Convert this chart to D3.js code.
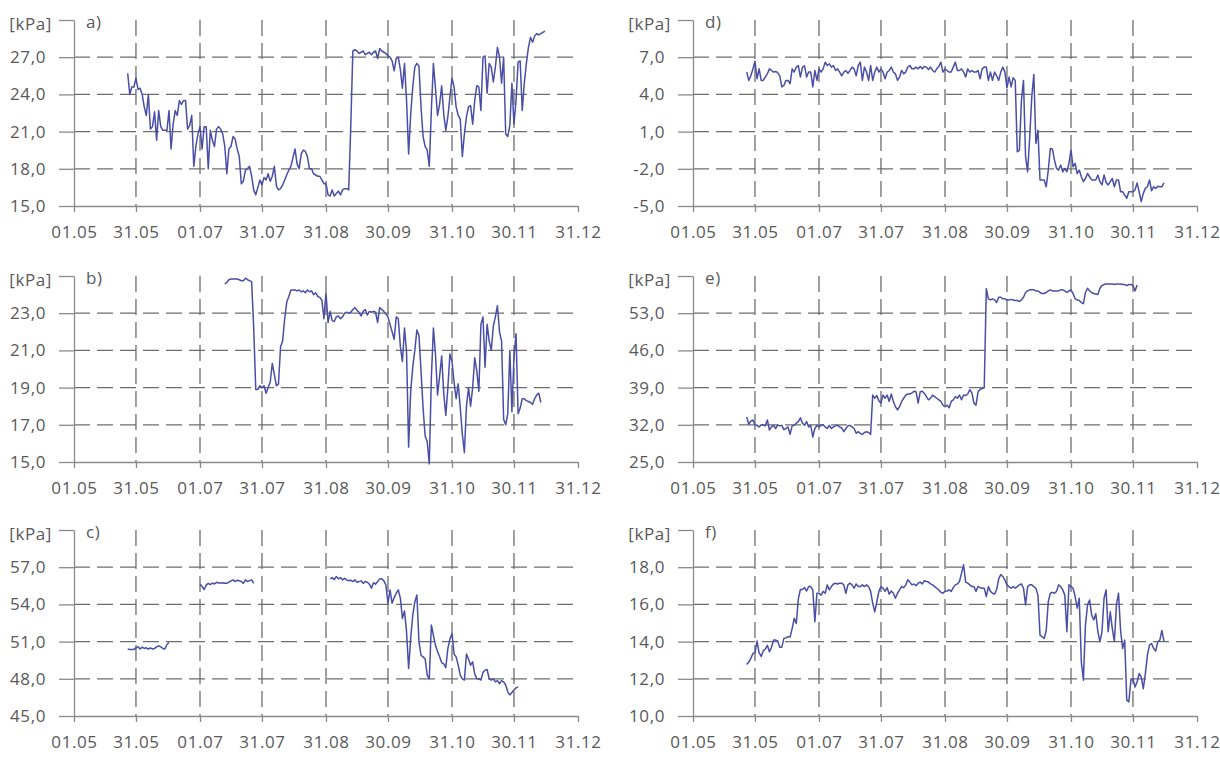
<!DOCTYPE html>
<html>
<head>
<meta charset="utf-8">
<title>Pressure panels a-f</title>
<script src="https://d3js.org/d3.v7.min.js"></script>
<style>
body { margin: 0; background: #fff; }
text { font-family: "Open Sans", sans-serif; font-size: 17px; fill: #595959; letter-spacing: 0.6px; }
</style>
</head>
<body>
<script>
// x tick labels (dd.mm)
var xTicks = ["01.05", "31.05", "01.07", "31.07", "31.08", "30.09", "31.10", "30.11", "31.12"];

// y ticks per panel (the last one is shown as the unit label)
var aTicks = [15, 18, 21, 24, 27, 30];
var bTicks = [15, 17, 19, 21, 23, 25];
var cTicks = [45, 48, 51, 54, 57, 60];
var dTicks = [-5, -2, 1, 4, 7, 10];
var eTicks = [25, 32, 39, 46, 53, 60];
var fTicks = [10, 12, 14, 16, 18, 20];

// daily readings [kPa], each list starts on the given day
var aStart = "27.05";
var aValues = [25.7, 24.0, 24.6, 24.6, 25.3, 24.4, 24.5, 24.0, 23.0, 22.3,
  24.0, 21.2, 21.4, 22.6, 20.3, 22.7, 21.4, 21.1, 21.1, 21.1,
  22.7, 19.6, 21.6, 22.7, 22.3, 23.5, 23.2, 23.5, 23.5, 21.2,
  21.5, 22.3, 18.2, 19.8, 20.8, 21.4, 19.6, 21.4, 21.4, 18.0,
  21.1, 20.3, 19.8, 21.2, 21.4, 21.2, 20.8, 19.8, 17.6, 19.6,
  19.8, 20.6, 20.4, 19.6, 19.0, 16.8, 17.0, 17.9, 18.0, 18.2,
  17.4, 16.3, 15.9, 16.5, 17.1, 16.7, 17.3, 17.1, 17.6, 17.0,
  17.4, 18.2, 16.6, 16.3, 16.4, 16.7, 17.1, 17.5, 17.9, 18.2,
  18.9, 19.6, 18.4, 18.0, 19.2, 19.5, 19.4, 19.0, 18.0, 18.0,
  17.6, 17.5, 17.4, 17.4, 17.1, 16.8, 16.8, 15.9, 15.8, 16.3,
  15.8, 16.0, 16.2, 15.9, 16.3, 16.4, 16.4, 16.3, 21.5, 27.5,
  27.6, 27.5, 27.3, 27.4, 27.5, 27.2, 27.3, 27.4, 27.2, 27.4,
  27.5, 26.9, 27.7, 27.5, 27.4, 27.3, 27.1, 27.0, 26.7, 25.9,
  26.9, 27.0, 26.0, 24.5, 26.5, 23.5, 19.2, 22.4, 24.6, 26.2,
  26.5, 26.3, 23.0, 20.6, 19.8, 19.5, 18.2, 22.7, 26.5, 24.5,
  22.3, 23.2, 24.7, 22.4, 21.1, 22.2, 23.8, 25.3, 24.6, 23.0,
  22.3, 22.0, 19.0, 20.8, 22.2, 23.0, 23.1, 21.6, 23.5, 24.7,
  24.6, 22.7, 27.0, 27.1, 24.1, 26.5, 26.2, 25.0, 26.2, 27.8,
  27.0, 24.9, 27.0, 20.8, 20.6, 21.5, 24.9, 21.6, 23.5, 26.6,
  26.7, 22.7, 24.9, 26.5, 27.8, 28.6, 28.2, 28.7, 28.9, 28.8,
  28.9, 29.0, 29.1];

var bStart = "13.07";
var bValues = [24.57, 24.66, 24.8, 24.84, 24.84, 24.84, 24.84, 24.8, 24.75, 24.75,
  24.88, 24.8, 24.75, 24.7, 22.2, 18.9, 18.9, 19.1, 19.0, 19.1,
  18.7, 19.0, 19.3, 20.3, 19.7, 19.1, 19.2, 21.2, 21.5, 22.7,
  23.6, 23.9, 24.25, 24.25, 24.25, 24.2, 24.25, 24.15, 24.2, 24.1,
  24.25, 24.15, 24.2, 24.0, 24.1, 23.9, 23.85, 23.7, 22.7, 24.1,
  22.5, 23.1, 22.6, 22.55, 22.8, 22.85, 22.7, 22.8, 23.0, 23.05,
  23.0, 23.05, 23.2, 23.3, 23.15, 23.05, 22.85, 23.1, 23.2, 22.9,
  23.1, 23.05, 23.1, 23.05, 22.5, 23.3, 23.2, 23.1, 22.95, 22.8,
  22.4, 22.0, 21.6, 22.8, 22.7, 21.2, 20.4, 22.2, 20.9, 15.8,
  18.8, 20.1, 21.0, 22.1, 21.8, 19.9, 17.9, 16.4, 16.1, 14.9,
  19.5, 22.2, 20.8, 18.6, 19.6, 20.7, 18.7, 17.5, 19.0, 20.8,
  20.4, 19.3, 18.4, 19.2, 17.9, 16.5, 15.5, 18.0, 19.0, 18.0,
  19.0, 20.6, 19.9, 18.8, 22.4, 22.8, 20.1, 22.4, 21.5, 21.0,
  22.3, 22.8, 23.4, 22.0, 21.5, 17.3, 17.0, 17.6, 21.0, 17.7,
  20.6, 21.9, 17.6, 17.9, 18.4, 18.4, 18.3, 18.25, 18.2, 18.1,
  18.4, 18.6, 18.7, 18.2];

// panel c has three separate measuring periods
var c1Start = "27.05";
var c1Values = [50.4, 50.37, 50.37, 50.37, 50.5, 50.58, 50.4, 50.55, 50.45, 50.5,
  50.4, 50.5, 50.4, 50.45, 50.58, 50.66, 50.58, 50.45, 50.4, 50.77, 50.93];
var c2Start = "01.07";
var c2Values = [55.65, 55.44, 55.2, 55.55, 55.7, 55.6, 55.72, 55.65, 55.78, 55.72,
  55.72, 55.75, 55.7, 55.7, 55.8, 55.9, 55.98, 55.84, 55.95, 55.9,
  55.85, 55.7, 55.98, 55.84, 55.92, 55.98, 55.7];
var c3Start = "02.09";
var c3Values = [56.06, 56.16, 56.0, 56.25, 56.06, 56.16, 55.98, 56.1, 55.98, 55.9,
  55.95, 55.84, 55.98, 55.79, 55.84, 55.9, 55.7, 55.84, 55.79, 55.63,
  55.3, 55.75, 55.63, 55.84, 56.06, 56.06, 55.9, 55.57, 54.1, 55.17,
  54.09, 54.55, 54.9, 55.17, 54.5, 52.87, 53.47, 51.8, 48.83, 51.26,
  53.14, 54.2, 54.76, 51.0, 49.9, 49.77, 49.6, 48.3, 48.0, 52.34,
  51.5, 50.7, 50.2, 49.77, 49.3, 49.2, 48.9, 50.45, 51.2, 51.66,
  50.0, 49.77, 49.1, 48.3, 48.0, 47.9, 50.0, 49.6, 49.1, 49.37,
  48.4, 48.0, 48.0, 47.9, 48.5, 48.7, 48.75, 48.0, 47.9, 48.0,
  47.75, 47.85, 47.6, 47.85, 47.75, 47.5, 46.95, 46.7, 46.9, 47.1,
  47.27, 47.35];

var dStart = "27.05";
var dValues = [5.8, 5.13, 5.5, 6.06, 6.68, 5.26, 6.06, 5.13, 5.13, 5.4,
  5.66, 6.06, 5.93, 5.8, 5.85, 5.75, 5.5, 4.6, 4.72, 5.13,
  5.13, 4.86, 6.06, 5.8, 6.2, 6.33, 5.4, 6.2, 6.3, 5.4,
  5.8, 5.8, 4.6, 5.93, 5.13, 6.06, 5.8, 6.06, 6.6, 6.33,
  6.46, 6.2, 6.33, 5.93, 6.06, 5.8, 5.5, 5.8, 5.93, 5.7,
  5.93, 6.2, 6.06, 5.5, 6.33, 6.6, 5.13, 6.2, 5.8, 5.13,
  6.33, 5.13, 5.8, 6.2, 5.8, 6.06, 5.8, 5.26, 5.8, 5.93,
  6.2, 5.8, 5.66, 5.13, 5.4, 5.93, 5.66, 5.8, 6.2, 6.33,
  6.06, 6.06, 6.2, 6.06, 6.25, 6.06, 6.25, 6.2, 6.0, 6.2,
  5.93, 5.8, 6.06, 6.25, 6.6, 5.8, 6.06, 5.93, 5.8, 5.8,
  6.2, 6.6, 5.93, 5.93, 6.06, 5.8, 5.4, 6.06, 5.8, 5.93,
  5.8, 5.8, 5.93, 5.26, 6.06, 6.2, 6.2, 5.13, 5.8, 5.13,
  5.8, 5.5, 5.13, 5.8, 6.2, 5.8, 4.53, 5.4, 4.6, 5.34,
  5.13, -0.63, -0.5, 3.52, 5.13, -1.0, -2.24, 0.5, 3.79, 5.6,
  0.04, 1.1, -2.9, -2.9, -2.9, -3.45, -2.1, -0.37, -0.4, -1.3,
  -1.97, -2.1, -1.7, -2.24, -1.97, -2.24, -1.57, -0.5, -1.84, -1.57,
  -2.38, -2.1, -2.64, -3.04, -2.78, -2.38, -2.64, -2.9, -2.9, -2.9,
  -2.5, -3.04, -3.3, -2.5, -3.1, -3.3, -3.04, -2.78, -3.45, -2.9,
  -2.9, -3.85, -3.85, -4.1, -4.38, -3.85, -3.85, -3.85, -3.7, -3.15,
  -3.85, -4.65, -3.98, -3.58, -3.45, -2.9, -3.77, -3.45, -3.58, -3.4,
  -3.45, -3.45, -3.13];

var eStart = "27.05";
var eValues = [33.5, 32.1, 32.7, 32.9, 32.0, 31.9, 31.6, 32.0, 31.9, 31.8,
  32.9, 31.0, 31.6, 31.9, 31.3, 32.0, 31.8, 31.9, 31.1, 31.3,
  31.6, 30.2, 31.8, 31.9, 32.3, 32.6, 33.3, 32.3, 31.9, 32.6,
  31.6, 31.9, 29.7, 31.3, 31.9, 31.6, 31.9, 32.0, 31.6, 31.3,
  31.9, 31.3, 31.6, 31.8, 31.9, 31.6, 31.4, 30.7, 31.3, 31.8,
  31.9, 31.6, 31.3, 30.4, 30.7, 30.4, 30.2, 30.55, 30.7, 30.55,
  30.2, 37.6, 37.0, 37.5, 36.5, 36.1, 37.6, 37.0, 37.6, 36.4,
  37.8, 36.4, 35.4, 34.8, 35.4, 36.4, 37.0, 37.6, 37.8, 37.8,
  38.0, 38.3, 38.2, 36.1, 38.2, 38.3, 37.9, 37.3, 36.7, 37.0,
  37.6, 37.3, 37.0, 36.7, 36.4, 35.7, 35.4, 35.7, 35.2, 36.4,
  36.7, 37.3, 37.0, 37.6, 36.7, 37.6, 37.5, 37.8, 38.6, 38.0,
  36.1, 35.7, 38.2, 38.7, 38.8, 39.0, 57.6, 55.7, 55.5, 55.7,
  55.5, 55.0, 56.0, 56.0, 55.7, 55.7, 55.5, 55.5, 55.6, 55.5,
  55.4, 55.4, 55.2, 55.5, 56.0, 56.9, 57.2, 57.4, 57.4, 57.4,
  57.2, 57.2, 56.9, 56.7, 56.7, 56.9, 57.2, 57.4, 57.2, 57.2,
  57.2, 57.2, 57.4, 57.4, 57.2, 56.9, 57.2, 57.4, 56.7, 55.7,
  55.5, 55.4, 55.0, 54.8, 56.9, 57.7, 57.2, 56.9, 56.7, 56.6,
  56.5, 57.7, 58.2, 58.4, 58.5, 58.5, 58.5, 58.5, 58.4, 58.5,
  58.5, 58.5, 58.4, 58.4, 58.2, 58.4, 58.4, 58.2, 57.2, 58.3];

var fStart = "27.05";
var fValues = [12.77, 12.9, 13.1, 13.36, 13.4, 14.03, 13.4, 13.2, 13.5, 13.6,
  13.8, 13.45, 13.7, 14.08, 14.08, 14.03, 13.7, 13.7, 14.17, 14.2,
  14.26, 14.26, 14.7, 15.25, 14.98, 16.3, 16.8, 16.8, 16.9, 16.72,
  16.96, 16.96, 16.78, 15.07, 16.6, 16.6, 16.5, 16.7, 16.6, 17.05,
  16.78, 16.96, 17.1, 17.14, 17.1, 17.14, 17.14, 17.05, 16.6, 17.05,
  17.14, 17.05, 16.87, 17.1, 16.96, 16.96, 17.05, 16.96, 17.05, 16.96,
  16.7, 16.06, 15.6, 16.15, 16.7, 16.96, 16.87, 16.7, 16.9, 16.55,
  16.72, 16.6, 16.33, 16.6, 16.78, 16.96, 16.9, 17.05, 17.32, 17.2,
  17.05, 17.1, 17.0, 17.14, 17.2, 17.1, 17.27, 17.23, 17.2, 17.1,
  17.05, 16.96, 16.87, 16.78, 16.65, 16.6, 16.7, 16.72, 16.78, 16.7,
  16.9, 17.05, 17.1, 17.23, 17.68, 18.13, 17.2, 17.14, 17.05, 16.96,
  16.96, 16.7, 16.96, 16.9, 16.87, 16.87, 16.42, 16.96, 16.7, 16.6,
  16.55, 16.8, 17.37, 17.6, 17.5, 17.3, 17.05, 16.96, 16.87, 16.96,
  16.87, 16.96, 17.05, 17.1, 16.87, 15.97, 16.96, 17.05, 17.05, 16.96,
  16.87, 16.5, 14.35, 14.26, 14.17, 14.6, 16.15, 16.6, 16.65, 16.6,
  16.7, 17.05, 16.96, 16.78, 16.5, 14.53, 17.05, 16.96, 16.87, 16.42,
  15.8, 16.33, 12.9, 11.92, 14.9, 15.97, 16.24, 15.43, 15.16, 15.5,
  14.53, 13.99, 14.53, 16.33, 16.78, 14.53, 15.6, 14.7, 14.0, 15.97,
  16.6, 14.6, 13.63, 14.08, 10.85, 10.76, 11.92, 12.0, 11.56, 11.83,
  12.28, 12.1, 11.47, 12.28, 13.27, 13.81, 13.9, 13.63, 13.5, 13.99,
  14.08, 14.6, 14.03];

var panels = [
  { label: "a)", col: 0, row: 0, ticks: aTicks, parts: [[aStart, aValues]] },
  { label: "b)", col: 0, row: 1, ticks: bTicks, parts: [[bStart, bValues]] },
  { label: "c)", col: 0, row: 2, ticks: cTicks, parts: [[c1Start, c1Values], [c2Start, c2Values], [c3Start, c3Values]] },
  { label: "d)", col: 1, row: 0, ticks: dTicks, parts: [[dStart, dValues]] },
  { label: "e)", col: 1, row: 1, ticks: eTicks, parts: [[eStart, eValues]] },
  { label: "f)", col: 1, row: 2, ticks: fTicks, parts: [[fStart, fValues]] }
];

// layout
var colLeft = [74, 693];
var rowTop = [20, 276, 530];
var plotW = 504, plotH = 186;
var axisColor = "#8a8a8a", gridColor = "#6e6e6e", lineColor = "#4b4ea6";

var parseDay = function(s) { return d3.utcParse("%d.%m.%Y")(s + ".2021"); };
var locale = d3.formatLocale({ decimal: ",", thousands: " ", grouping: [3], currency: ["", ""], minus: "-" });
var fmt = locale.format(".1f");
var fmtDay = d3.utcFormat("%d.%m");

var tickDates = xTicks.map(parseDay);

var svg = d3.select("body").append("svg")
    .attr("width", 1220)
    .attr("height", 760);

panels.forEach(function(p) {
  var g = svg.append("g")
      .attr("transform", "translate(" + colLeft[p.col] + "," + rowTop[p.row] + ")");

  var x = d3.scaleUtc()
      .domain([tickDates[0], tickDates[tickDates.length - 1]])
      .range([0, plotW]);
  var y = d3.scaleLinear()
      .domain([p.ticks[0], p.ticks[p.ticks.length - 1]])
      .range([plotH, 0]);

  // dashed grid
  g.append("g").selectAll("line")
      .data(p.ticks.slice(1, -1))
      .enter().append("line")
      .attr("x1", 0).attr("x2", plotW)
      .attr("y1", function(d) { return y(d); })
      .attr("y2", function(d) { return y(d); })
      .attr("stroke", gridColor)
      .attr("stroke-width", 1.3)
      .attr("stroke-dasharray", "16,7");

  g.append("g").selectAll("line")
      .data(tickDates.slice(1, -1))
      .enter().append("line")
      .attr("x1", function(d) { return x(d); })
      .attr("x2", function(d) { return x(d); })
      .attr("y1", 0).attr("y2", plotH)
      .attr("stroke", gridColor)
      .attr("stroke-width", 1.3)
      .attr("stroke-dasharray", "16,7");

  // axes
  var last = p.ticks.length - 1;
  var yAxis = g.append("g")
      .call(d3.axisLeft(y)
        .tickValues(p.ticks)
        .tickSize(15)
        .tickSizeOuter(0)
        .tickPadding(13)
        .tickFormat(function(d, i) { return i === last ? "[kPa]" : fmt(d); }));

  yAxis.selectAll("text").filter(function(d, i) { return i === last; })
      .attr("dx", 6)
      .attr("dy", "0.55em");

  var xAxis = g.append("g")
      .attr("transform", "translate(0," + plotH + ")")
      .call(d3.axisBottom(x)
        .tickValues(tickDates)
        .tickSize(6)
        .tickSizeOuter(0)
        .tickPadding(14)
        .tickFormat(fmtDay));

  [yAxis, xAxis].forEach(function(ax) {
    ax.attr("font-family", null).attr("font-size", null);
    ax.selectAll("path, line").attr("stroke", axisColor).attr("stroke-width", 1.3);
    ax.selectAll("text").attr("fill", "#595959");
  });

  g.append("text")
      .attr("x", 12)
      .attr("y", 8)
      .text(p.label);

  // data
  var line = d3.line()
      .x(function(d) { return x(d.date); })
      .y(function(d) { return y(d.value); });

  p.parts.forEach(function(part) {
    var t0 = parseDay(part[0]);
    var pts = part[1].map(function(v, i) { return { date: d3.utcDay.offset(t0, i), value: v }; });
    g.append("path")
        .datum(pts)
        .attr("fill", "none")
        .attr("stroke", lineColor)
        .attr("stroke-width", 1.5)
        .attr("stroke-linejoin", "round")
        .attr("d", line);
  });
});
</script>
</body>
</html>
